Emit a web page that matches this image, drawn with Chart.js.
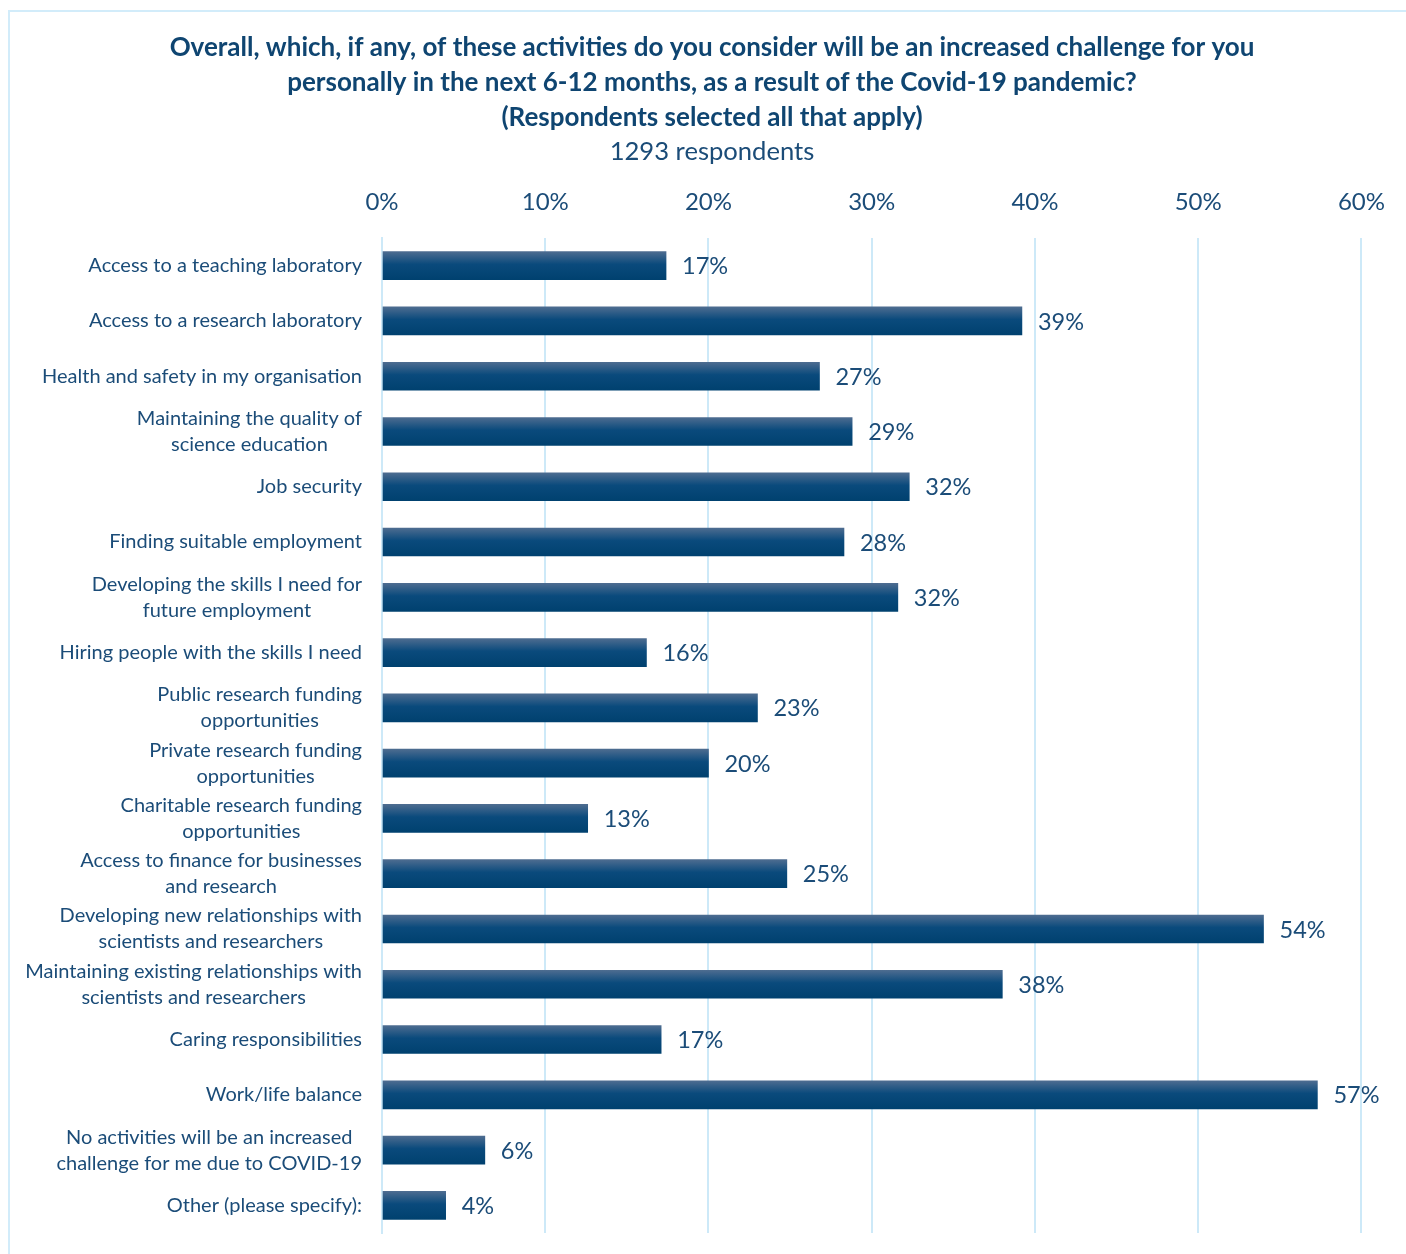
<!DOCTYPE html>
<html>
<head>
<meta charset="utf-8">
<script src="https://cdn.jsdelivr.net/npm/chart.js@4/dist/chart.umd.min.js"></script>
<style>
  html, body { margin: 0; padding: 0; background: #ffffff; overflow: hidden; }
  #wrap { position: relative; width: 1406px; height: 1254px; overflow: hidden; }
  #frame { position: absolute; left: 8px; top: 10px; width: 1420px; height: 1280px; border: 2px solid #D2ECFA; box-sizing: border-box; }
  #c { position: absolute; left: 0; top: 0; }
</style>
</head>
<body>
<div id="wrap">
  <div id="frame"></div>
  <canvas id="c" width="1406" height="1254"></canvas>
</div>
<script>
const titleLines = [
  "Overall, which, if any, of these activities do you consider will be an increased challenge for you",
  "personally in the next 6-12 months, as a result of the Covid-19 pandemic?",
  "(Respondents selected all that apply)"
];
const subtitleText = "1293 respondents";

const categories = [
  ["Access to a teaching laboratory"],
  ["Access to a research laboratory"],
  ["Health and safety in my organisation"],
  ["Maintaining the quality of", "science education"],
  ["Job security"],
  ["Finding suitable employment"],
  ["Developing the skills I need for", "future employment"],
  ["Hiring people with the skills I need"],
  ["Public research funding", "opportunities"],
  ["Private research funding", "opportunities"],
  ["Charitable research funding", "opportunities"],
  ["Access to finance for businesses", "and research"],
  ["Developing new relationships with", "scientists and researchers"],
  ["Maintaining existing relationships with", "scientists and researchers"],
  ["Caring responsibilities"],
  ["Work/life balance"],
  ["No activities will be an increased", "challenge for me due to COVID-19"],
  ["Other (please specify):"]
];

const values = [17.4, 39.2, 26.8, 28.8, 32.3, 28.3, 31.6, 16.2, 23.0, 20.0, 12.6, 24.8, 54.0, 38.0, 17.1, 57.3, 6.3, 3.9];
const valueLabels = ["17%", "39%", "27%", "29%", "32%", "28%", "32%", "16%", "23%", "20%", "13%", "25%", "54%", "38%", "17%", "57%", "6%", "4%"];
const xTickLabels = ["0%", "10%", "20%", "30%", "40%", "50%", "60%"];

const TEXT = '#1B4C78';
const TITLE = '#0F4571';
const FONT = 'Lato, "Open Sans", sans-serif';

const barFill = (ctx) => {
  const chart = ctx.chart;
  const yScale = chart.scales && chart.scales.y;
  if (!chart.chartArea || !yScale || ctx.dataIndex === undefined) return '#03467A';
  const y = yScale.getPixelForValue(ctx.dataIndex);
  const g = chart.ctx.createLinearGradient(0, y - 14, 0, y + 14);
  g.addColorStop(0, '#4D6C90');
  g.addColorStop(0.45, '#0A4A7C');
  g.addColorStop(1, '#00416F');
  return g;
};

const yLabelPlugin = {
  id: 'yLabels',
  afterDraw(chart) {
    const c = chart.ctx;
    const ys = chart.scales.y;
    const right = chart.chartArea.left - 20;
    const lh = 26;
    c.save();
    c.font = '20px ' + FONT;
    c.fillStyle = TEXT;
    c.textBaseline = 'middle';
    c.textAlign = 'center';
    chart.data.labels.forEach((lines, i) => {
      const yc = ys.getPixelForValue(i);
      let maxW = 0;
      lines.forEach(l => { maxW = Math.max(maxW, c.measureText(l).width); });
      const cx = right - maxW / 2;
      const y0 = yc - (lines.length - 1) * lh / 2;
      lines.forEach((l, k) => c.fillText(l, cx, y0 + k * lh));
    });
    c.restore();
  }
};

const valueLabelPlugin = {
  id: 'valueLabels',
  afterDatasetsDraw(chart) {
    const c = chart.ctx;
    const meta = chart.getDatasetMeta(0);
    c.save();
    c.font = '23.5px ' + FONT;
    c.fillStyle = TEXT;
    c.textBaseline = 'middle';
    c.textAlign = 'left';
    meta.data.forEach((bar, i) => {
      c.fillText(valueLabels[i], bar.x + 16, bar.y + 1);
    });
    c.restore();
  }
};

new Chart(document.getElementById('c'), {
  type: 'bar',
  data: {
    labels: categories,
    datasets: [{
      data: values,
      backgroundColor: barFill,
      borderWidth: 0,
      barThickness: 28
    }]
  },
  options: {
    indexAxis: 'y',
    responsive: false,
    animation: false,
    layout: { padding: { top: 0, left: 62, right: 44, bottom: 21 } },
    plugins: {
      legend: { display: false },
      tooltip: { enabled: false },
      title: {
        display: true,
        text: titleLines,
        color: TITLE,
        font: { family: FONT, size: 26, weight: 'bold', lineHeight: 35 / 26 },
        padding: { top: 30, bottom: 1.5 }
      },
      subtitle: {
        display: true,
        text: subtitleText,
        color: TEXT,
        font: { family: FONT, size: 25.6, weight: 'normal', lineHeight: 1.2 },
        padding: { top: 0, bottom: 0 }
      }
    },
    scales: {
      x: {
        position: 'top',
        min: 0,
        max: 60,
        ticks: {
          stepSize: 10,
          color: TEXT,
          font: { family: FONT, size: 24, lineHeight: 1.2 },
          padding: 21,
          callback: (v, i) => xTickLabels[i]
        },
        grid: { color: '#CDE9F8', lineWidth: 2, drawTicks: false },
        border: { display: false }
      },
      y: {
        ticks: { display: false },
        grid: { display: false },
        border: { display: true, color: '#CDE9F8', width: 2 },
        afterFit(scale) { scale.width = 320; }
      }
    }
  },
  plugins: [yLabelPlugin, valueLabelPlugin]
});
</script>
</body>
</html>
